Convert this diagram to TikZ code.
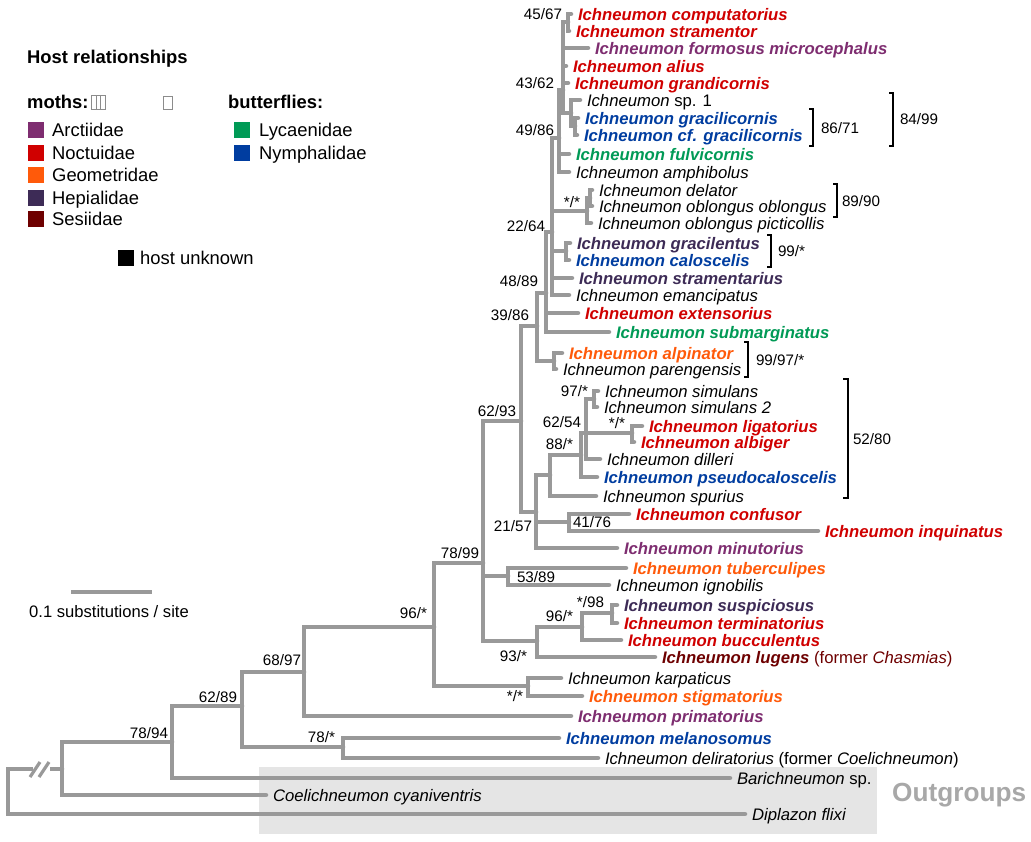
\documentclass[tikz,border=0pt]{standalone}
\usepackage{fontspec}
\setmainfont{Liberation Sans}
\definecolor{brc}{HTML}{999999}
\definecolor{arc}{HTML}{7E2D70}
\definecolor{noc}{HTML}{D00000}
\definecolor{geo}{HTML}{FF5A0A}
\definecolor{hep}{HTML}{3D2B56}
\definecolor{ses}{HTML}{6E0000}
\definecolor{lyc}{HTML}{009A56}
\definecolor{nym}{HTML}{003DA0}
\definecolor{boxc}{HTML}{E5E5E5}
\definecolor{outc}{HTML}{A8A8A8}
\newcommand{\tipfont}{\fontsize{16.7}{18}\selectfont}
\newcommand{\bsfont}{\fontsize{15.2}{16}\selectfont}
\newcommand{\legfont}{\fontsize{18.4}{20}\selectfont}
\tikzset{
 br/.style={draw=brc, line width=4.5pt, line cap=round},
 brk/.style={draw=black, line width=2pt},
 tip/.style={anchor=west, inner xsep=7pt, inner ysep=0pt, outer sep=0pt, font=\tipfont, text height=12pt, text depth=0pt},
 tb/.style={tip, font=\tipfont\bfseries\itshape},
 ti/.style={tip, font=\tipfont\itshape},
 bs/.style={anchor=east, inner sep=0pt, outer sep=0pt, font=\bsfont, text height=10.9pt, text depth=0pt},
 bsl/.style={bs, anchor=west},
 leg/.style={anchor=west, inner sep=0pt, font=\legfont, text height=13.2pt, text depth=0pt},
 legb/.style={leg, font=\legfont\bfseries},
 sw/.style={minimum size=16pt, inner sep=0pt, draw=none, anchor=north west}
}
\begin{document}
\begin{tikzpicture}[x=1pt,y=-1pt]
\useasboundingbox (0,0) rectangle (1031,841);
\fill[white] (0,0) rectangle (1031,841);
% outgroup box
\fill[boxc] (259,767) rectangle (877,834);
\node[anchor=west, inner sep=0pt, font=\fontsize{26.2}{28}\selectfont\bfseries, text=outc, text height=18.8pt, text depth=0pt] (outg) at (892,792) {Outgroups};

% legend
\node[legb] (hostrel) at (27,57) {Host relationships};
\node[legb] (moths) at (27,102) {moths:};
\draw[black!45, line width=0.6pt] (91,95) rectangle (105,109) (96,95)--(96,109) (100,95)--(100,109);
\draw[black!45, line width=0.6pt] (163,96) rectangle (172,109);
\node[legb] (butt) at (228,102) {butterflies:};
\node[sw, fill=arc] (swa) at (28,122) {};
\node[leg] (la) at (52,130) {Arctiidae};
\node[sw, fill=noc] (swn) at (28,145) {};
\node[leg] (ln) at (52,153) {Noctuidae};
\node[sw, fill=geo] (swg) at (28,167) {};
\node[leg] (lg) at (52,175) {Geometridae};
\node[sw, fill=hep] (swh) at (28,190) {};
\node[leg] (lh) at (52,198) {Hepialidae};
\node[sw, fill=ses] (sws) at (28,211) {};
\node[leg] (ls) at (52,219) {Sesiidae};
\node[sw, fill=lyc] (swl) at (234,122) {};
\node[leg] (ll) at (259,130) {Lycaenidae};
\node[sw, fill=nym] (swy) at (234,145) {};
\node[leg] (ly) at (259,153) {Nymphalidae};
\node[sw, fill=black] (swu) at (118,250) {};
\node[leg] (lu) at (140,258) {host unknown};

% scale bar
\coordinate (sb1) at (71,592);
\coordinate (sb2) at (152,592);
\draw[br, line cap=butt] (sb1) -- (sb2);
\node[anchor=west, inner sep=0pt, font=\fontsize{16.6}{18}\selectfont, text height=11.9pt, text depth=0pt] (sbl) at (29,612) {0.1 substitutions / site};

% tips
\node[tb, text=noc] (comp) at (571,14) {Ichneumon computatorius};
\node[tb, text=noc] (stra) at (569,31) {Ichneumon stramentor};
\node[tb, text=arc] (form) at (588,48) {Ichneumon formosus microcephalus};
\node[tb, text=noc] (aliu) at (566,66) {Ichneumon alius};
\node[tb, text=noc] (gran) at (568,83) {Ichneumon grandicornis};
\node[tip] (sp1) at (580,100) {\itshape Ichneumon\/ \upshape sp. 1};
\node[tb, text=nym] (grac) at (578,118) {Ichneumon gracilicornis};
\node[tb, text=nym] (cfgr) at (577,135) {Ichneumon cf. gracilicornis};
\node[tb, text=lyc] (fulv) at (569,154) {Ichneumon fulvicornis};
\node[ti] (amph) at (569,172) {Ichneumon amphibolus};
\node[ti] (dela) at (592,190) {Ichneumon delator};
\node[ti] (oblo) at (592,206) {Ichneumon oblongus oblongus};
\node[ti] (pict) at (591,223) {Ichneumon oblongus picticollis};
\node[tb, text=hep] (grat) at (570,243) {Ichneumon gracilentus};
\node[tb, text=nym] (calo) at (569,260) {Ichneumon caloscelis};
\node[tb, text=hep] (strt) at (572,278) {Ichneumon stramentarius};
\node[ti] (eman) at (569,295) {Ichneumon emancipatus};
\node[tb, text=noc] (exte) at (578,313) {Ichneumon extensorius};
\node[tb, text=lyc] (subm) at (609,332) {Ichneumon submarginatus};
\node[tb, text=geo] (alpi) at (562,353) {Ichneumon alpinator};
\node[ti] (pare) at (556,369) {Ichneumon parengensis};
\node[ti] (simu) at (598,391) {Ichneumon simulans};
\node[ti] (sim2) at (597,407) {Ichneumon simulans 2};
\node[tb, text=noc] (liga) at (642,426) {Ichneumon ligatorius};
\node[tb, text=noc] (albi) at (634,442) {Ichneumon albiger};
\node[ti] (dill) at (600,459) {Ichneumon dilleri};
\node[tb, text=nym] (pseu) at (597,477) {Ichneumon pseudocaloscelis};
\node[ti] (spur) at (596,496) {Ichneumon spurius};
\node[tb, text=noc] (conf) at (629,514) {Ichneumon confusor};
\node[tb, text=noc] (inqu) at (818,531) {Ichneumon inquinatus};
\node[tb, text=arc] (minu) at (617,548) {Ichneumon minutorius};
\node[tb, text=geo] (tube) at (626,568) {Ichneumon tuberculipes};
\node[ti] (igno) at (609,585) {Ichneumon ignobilis};
\node[tb, text=hep] (susp) at (617,605) {Ichneumon suspiciosus};
\node[tb, text=noc] (term) at (617,623) {Ichneumon terminatorius};
\node[tb, text=noc] (bucc) at (621,640) {Ichneumon bucculentus};
\node[tb, text=ses] (luge) at (655,657) {Ichneumon lugens {\mdseries\upshape (former \textit{Chasmias})}};
\node[ti] (karp) at (561,678) {Ichneumon karpaticus};
\node[tb, text=geo] (stig) at (582,696) {Ichneumon stigmatorius};
\node[tb, text=arc] (prim) at (571,716) {Ichneumon primatorius};
\node[tb, text=nym] (mela) at (559,738) {Ichneumon melanosomus};
\node[ti] (deli) at (598,758) {Ichneumon deliratorius {\upshape (former \textit{Coelichneumon})}};
\node[tip] (bari) at (730,778) {\itshape Barichneumon\/ \upshape sp.};
\node[ti] (coel) at (266,795) {Coelichneumon cyaniventris};
\node[ti] (dipl) at (745,814) {Diplazon flixi};

% internal nodes
\coordinate (R) at (8,792);
\coordinate (A) at (62,769);
\coordinate (B) at (172,742);
\coordinate (C) at (242,706);
\coordinate (D) at (343,747);
\coordinate (E) at (304,672);
\coordinate (F) at (434,627);
\coordinate (G) at (483,563);
\coordinate (H) at (528,686);
\coordinate (N53) at (508,576);
\coordinate (J) at (537,641);
\coordinate (K) at (582,627);
\coordinate (L) at (612,613);
\coordinate (I) at (521,421);
\coordinate (M) at (536,512);
\coordinate (N41) at (569,522);
\coordinate (N88) at (550,475);
\coordinate (X) at (581,455);
\coordinate (Y) at (586,433);
\coordinate (N97) at (594,399);
\coordinate (Nlig) at (632,433);
\coordinate (P) at (537,326);
\coordinate (Nalp) at (554,361);
\coordinate (Q) at (546,293);
\coordinate (N22) at (552,232);
\coordinate (Ngrc) at (566,251);
\coordinate (Ndel) at (587,211);
\coordinate (Ndo) at (590,198);
\coordinate (N49) at (559,138);
\coordinate (N43) at (563,90);
\coordinate (N45) at (568,22);
\coordinate (Nsp) at (571,113);
\coordinate (Ngr) at (575,126);

% branches
\draw[br] (R) |- (A);
\draw[br] (R) |- (dipl.west);
\draw[br] (A) |- (B);
\draw[br] (A) |- (coel.west);
\draw[br] (B) |- (C);
\draw[br] (B) |- (bari.west);
\draw[br] (C) |- (E);
\draw[br] (C) |- (D);
\draw[br] (D) |- (mela.west);
\draw[br] (D) |- (deli.west);
\draw[br] (E) |- (F);
\draw[br] (E) |- (prim.west);
\draw[br] (F) |- (G);
\draw[br] (F) |- (H);
\draw[br] (H) |- (karp.west);
\draw[br] (H) |- (stig.west);
\draw[br] (G) |- (I);
\draw[br] (G) |- (N53);
\draw[br] (G) |- (J);
\draw[br] (N53) |- (tube.west);
\draw[br] (N53) |- (igno.west);
\draw[br] (J) |- (K);
\draw[br] (J) |- (luge.west);
\draw[br] (K) |- (L);
\draw[br] (K) |- (bucc.west);
\draw[br] (L) |- (susp.west);
\draw[br] (L) |- (term.west);
\draw[br] (I) |- (P);
\draw[br] (I) |- (M);
\draw[br] (M) |- (N88);
\draw[br] (M) |- (N41);
\draw[br] (M) |- (minu.west);
\draw[br] (N41) |- (conf.west);
\draw[br] (N41) |- (inqu.west);
\draw[br] (N88) |- (X);
\draw[br] (N88) |- (spur.west);
\draw[br] (X) |- (Y);
\draw[br] (X) |- (pseu.west);
\draw[br] (Y) |- (N97);
\draw[br] (Y) |- (Nlig);
\draw[br] (Y) |- (dill.west);
\draw[br] (N97) |- (simu.west);
\draw[br] (N97) |- (sim2.west);
\draw[br] (Nlig) |- (liga.west);
\draw[br] (Nlig) |- (albi.west);
\draw[br] (P) |- (Q);
\draw[br] (P) |- (Nalp);
\draw[br] (Nalp) |- (alpi.west);
\draw[br] (Nalp) |- (pare.west);
\draw[br] (Q) |- (N22);
\draw[br] (Q) |- (exte.west);
\draw[br] (Q) |- (subm.west);
\draw[br] (N22) |- (N49);
\draw[br] (N22) |- (Ndel);
\draw[br] (N22) |- (Ngrc);
\draw[br] (N22) |- (strt.west);
\draw[br] (N22) |- (eman.west);
\draw[br] (Ngrc) |- (grat.west);
\draw[br] (Ngrc) |- (calo.west);
\draw[br] (Ndel) |- (Ndo);
\draw[br] (Ndel) |- (pict.west);
\draw[br] (Ndo) |- (dela.west);
\draw[br] (Ndo) |- (oblo.west);
\draw[br] (N49) |- (N43);
\draw[br] (N49) |- (fulv.west);
\draw[br] (N49) |- (amph.west);
\draw[br] (N43) |- (N45);
\draw[br] (N43) |- (form.west);
\draw[br] (N43) |- (aliu.west);
\draw[br] (N43) |- (gran.west);
\draw[br] (N43) |- (Nsp);
\draw[br] (N45) |- (comp.west);
\draw[br] (N45) |- (stra.west);
\draw[br] (Nsp) |- (sp1.west);
\draw[br] (Nsp) |- (Ngr);
\draw[br] (Ngr) |- (grac.west);
\draw[br] (Ngr) |- (cfgr.west);

% break marks on root branch
\fill[white] (33,762) rectangle (50,776);
\draw[brc, line width=3.2pt] (30,777) -- (40,762) (39,777) -- (49,762);

% support values
\node[bs] (s4567) at (562,14) {45/67};
\node[bs] (s4362) at (554,83) {43/62};
\node[bs] (s4986) at (554,130) {49/86};
\node[bs] (sdel) at (580,202) {*/*};
\node[bs] (s2264) at (545,226) {22/64};
\node[bs] (s4889) at (538,281) {48/89};
\node[bs] (s3986) at (529,315) {39/86};
\node[bs] (s97) at (588,391) {97/*};
\node[bs] (s6293) at (516,411) {62/93};
\node[bs] (s6254) at (581,422) {62/54};
\node[bs] (slig) at (625,423) {*/*};
\node[bs] (s88) at (573,444) {88/*};
\node[bs] (s2157) at (532,526) {21/57};
\node[bsl] (s4176) at (573,522) {41/76};
\node[bs] (s7899) at (479,553) {78/99};
\node[bsl] (s5389) at (517,577) {53/89};
\node[bs] (s98) at (604,602) {*/98};
\node[bs] (s96k) at (573,616) {96/*};
\node[bs] (s93) at (527,656) {93/*};
\node[bs] (sh) at (523,696) {*/*};
\node[bs] (s96f) at (427,613) {96/*};
\node[bs] (s6897) at (301,660) {68/97};
\node[bs] (s6289) at (237,697) {62/89};
\node[bs] (s78) at (335,737) {78/*};
\node[bs] (s7894) at (168,733) {78/94};

% clade brackets
\draw[brk] (809,109) -- (813,109) -- (813,146) -- (809,146);
\node[bsl] (b8671) at (821,128) {86/71};
\draw[brk] (889,93) -- (893,93) -- (893,146) -- (889,146);
\node[bsl] (b8499) at (900,119) {84/99};
\draw[brk] (833,184) -- (837,184) -- (837,217) -- (833,217);
\node[bsl] (b8990) at (842,201) {89/90};
\draw[brk] (767,235) -- (771,235) -- (771,267) -- (767,267);
\node[bsl] (b99) at (778,251) {99/*};
\draw[brk] (744,342) -- (748,342) -- (748,377) -- (744,377);
\node[bsl] (b9997) at (756,360) {99/97/*};
\draw[brk] (843,379) -- (848,379) -- (848,498) -- (843,498);
\node[bsl] (b5280) at (853,439) {52/80};
\end{tikzpicture}
\end{document}
